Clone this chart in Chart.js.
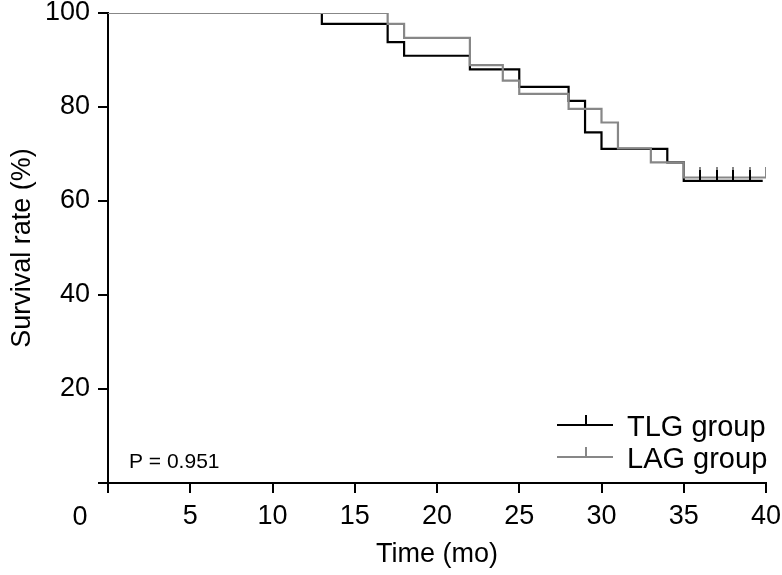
<!DOCTYPE html>
<html>
<head>
<meta charset="utf-8">
<script src="https://cdn.jsdelivr.net/npm/chart.js@4.4.1/dist/chart.umd.min.js"></script>
<style>
  body { margin: 0; background: #fff; }
  canvas { display: block; }
</style>
</head>
<body>
<canvas id="km" width="782" height="575"></canvas>
<script>
// Kaplan-Meier steps
const tlgTime = [0, 13, 17, 18, 22, 25, 28, 29, 30, 34, 35, 39.8];
const tlgSurv = [100, 97.7, 93.8, 90.9, 88.0, 84.3, 81.3, 74.6, 71.1, 68.2, 64.3, 64.3];
const lagTime = [0, 17, 18, 22, 24, 25, 28, 30, 31, 33, 35, 40];
const lagSurv = [100, 97.7, 94.7, 88.9, 85.6, 82.8, 79.6, 76.7, 71.2, 68.2, 65.0, 65.0];
const tlgCensor = [36, 37, 38, 39];
const lagCensor = [36, 37, 38, 39, 40];
const xTicks = [0, 5, 10, 15, 20, 25, 30, 35, 40];
const yTicks = [0, 20, 40, 60, 80, 100];
const seriesNames = ['TLG group', 'LAG group'];
const pValue = 'P = 0.951';

const BLACK = '#000000';
const GRAY = '#878787';
const FONT = "'Liberation Sans', Arial, sans-serif";

function toPoints(xs, ys) {
  return xs.map((x, i) => ({ x: x, y: ys[i] }));
}

function censorPoints(xs, level) {
  return xs.map(x => ({ x: x, y: level }));
}

// small upward tick used as the censor mark
function tickImg(color) {
  const c = document.createElement('canvas');
  c.width = 2;
  c.height = 22;
  const g = c.getContext('2d');
  g.fillStyle = color;
  g.fillRect(0, 0, 2, 11);
  return c;
}

const extras = {
  id: 'extras',
  afterDraw(chart) {
    const ctx = chart.ctx;
    const x = chart.scales.x;
    ctx.save();
    ctx.fillStyle = BLACK;
    // the 0 of the time axis sits left of the corner
    ctx.font = '27px ' + FONT;
    ctx.textAlign = 'center';
    ctx.textBaseline = 'alphabetic';
    ctx.fillText('0', x.getPixelForValue(0) - 28, 525);

    ctx.font = '21px ' + FONT;
    ctx.textAlign = 'left';
    ctx.fillText(pValue, 129, 468);

    // legend
    const cols = [BLACK, GRAY];
    const ys = [425, 457];
    ctx.font = '29px ' + FONT;
    ctx.lineWidth = 2;
    for (let i = 0; i < 2; i++) {
      ctx.strokeStyle = cols[i];
      ctx.beginPath();
      ctx.moveTo(557, ys[i]);
      ctx.lineTo(613, ys[i]);
      ctx.moveTo(586, ys[i]);
      ctx.lineTo(586, ys[i] - 10);
      ctx.stroke();
      ctx.fillStyle = BLACK;
      ctx.fillText(seriesNames[i], 627, ys[i] + 11);
    }
    ctx.restore();
  }
};

Chart.defaults.color = BLACK;
Chart.defaults.font.family = FONT;

new Chart(document.getElementById('km'), {
  type: 'line',
  data: {
    datasets: [
      {
        label: 'TLG censored',
        data: censorPoints(tlgCensor, tlgSurv[tlgSurv.length - 1]),
        showLine: false,
        pointStyle: tickImg(BLACK),
        pointRadius: 5,
        borderColor: BLACK,
        backgroundColor: BLACK
      },
      {
        label: 'LAG censored',
        data: censorPoints(lagCensor, lagSurv[lagSurv.length - 1]),
        showLine: false,
        pointStyle: tickImg(GRAY),
        pointRadius: 5,
        borderColor: GRAY,
        backgroundColor: GRAY
      },
      {
        label: seriesNames[1],
        data: toPoints(lagTime, lagSurv),
        stepped: true,
        borderColor: GRAY,
        borderWidth: 2.2,
        pointRadius: 0,
        fill: false
      },
      {
        label: seriesNames[0],
        data: toPoints(tlgTime, tlgSurv),
        stepped: true,
        borderColor: BLACK,
        borderWidth: 2.2,
        pointRadius: 0,
        fill: false
      }
    ]
  },
  options: {
    responsive: false,
    animation: false,
    events: [],
    layout: { padding: { top: 13, right: 16, left: 0, bottom: 0 } },
    plugins: { legend: { display: false }, tooltip: { enabled: false } },
    scales: {
      x: {
        type: 'linear',
        min: 0,
        max: 40,
        afterBuildTicks(s) { s.ticks = xTicks.map(v => ({ value: v })); },
        afterFit(s) { s.height = 92; s.paddingLeft = 0; s.paddingRight = 0; },
        ticks: {
          font: { size: 27 },
          padding: 7,
          maxRotation: 0,
          callback: v => (v === 0 ? '' : v)
        },
        grid: {
          drawOnChartArea: false,
          drawTicks: true,
          tickLength: 10,
          color: BLACK,
          lineWidth: 2
        },
        border: { display: true, color: BLACK, width: 2 },
        title: {
          display: true,
          text: 'Time (mo)',
          font: { size: 27 },
          padding: { top: 4, bottom: 4 }
        }
      },
      y: {
        min: 0,
        max: 100,
        afterBuildTicks(s) { s.ticks = yTicks.map(v => ({ value: v })); },
        afterFit(s) { s.width = 108; s.paddingTop = 0; s.paddingBottom = 0; },
        ticks: {
          font: { size: 27 },
          padding: 8,
          callback: v => (v === 0 ? '' : v)
        },
        grid: {
          drawOnChartArea: false,
          drawTicks: true,
          tickLength: 10,
          color: BLACK,
          lineWidth: 2
        },
        border: { display: true, color: BLACK, width: 2 },
        title: {
          display: true,
          text: 'Survival rate (%)',
          font: { size: 27 },
          padding: { top: 6, bottom: 0 }
        }
      }
    }
  },
  plugins: [extras]
});
</script>
</body>
</html>
